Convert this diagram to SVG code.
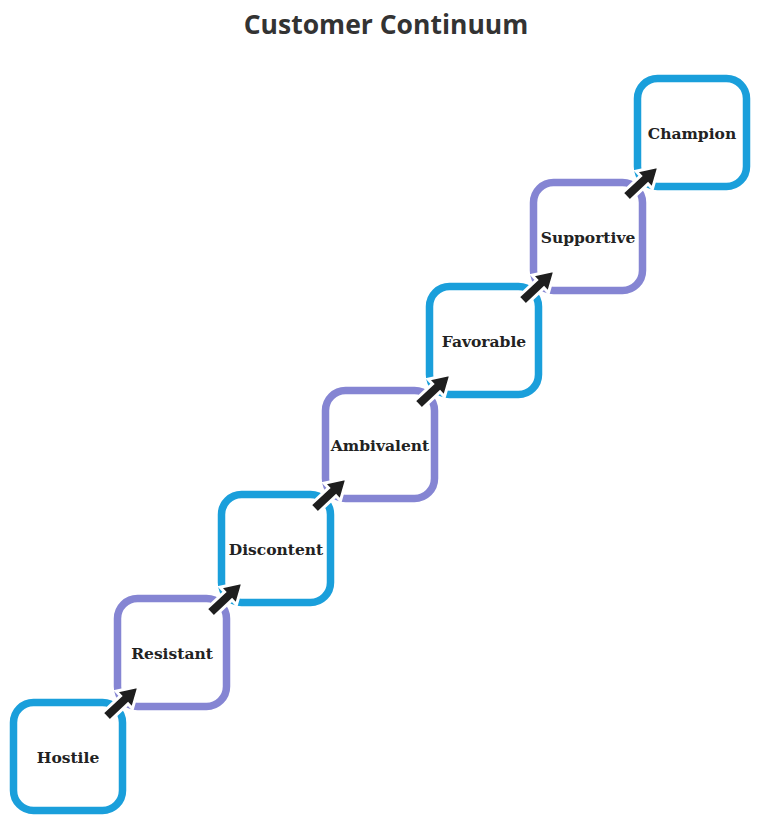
<svg xmlns="http://www.w3.org/2000/svg" width="762" height="824" viewBox="0 0 762 824">
<style>
.title{font-family:"Open Sans",sans-serif;font-weight:700;font-size:26.5px;fill:#333333;text-anchor:middle}
.box{fill:#ffffff;stroke-width:7.5}
.blue{stroke:#1a9fdb}
.purple{stroke:#8585d3}
.lbl{font-family:"DejaVu Serif",serif;font-weight:700;font-size:15.5px;fill:#222222;text-anchor:middle;dominant-baseline:central}
.arr{fill:#1e1e1e;stroke:#ffffff;stroke-width:3;stroke-linejoin:miter}
</style>
<defs>
<polygon id="arrow" points="0,-5.5 25,-5.5 25,-12 45,0 25,12 25,5.5 0,5.5"/>
</defs>
<rect width="762" height="824" fill="#ffffff"/>
<text class="title" x="386" y="34">Customer Continuum</text>
<g id="hostile"><rect class="box blue" x="13.5" y="702.5" width="109" height="108" rx="20"/><text class="lbl" x="68" y="757">Hostile</text></g>
<g id="resistant"><rect class="box purple" x="117.5" y="598.5" width="109" height="108" rx="20"/><text class="lbl" x="172" y="653">Resistant</text></g>
<g id="discontent"><rect class="box blue" x="221.5" y="494.5" width="109" height="108" rx="20"/><text class="lbl" x="276" y="549">Discontent</text></g>
<g id="ambivalent"><rect class="box purple" x="325.5" y="390.5" width="109" height="108" rx="20"/><text class="lbl" x="380" y="445">Ambivalent</text></g>
<g id="favorable"><rect class="box blue" x="429.5" y="286.5" width="109" height="108" rx="20"/><text class="lbl" x="484" y="341">Favorable</text></g>
<g id="supportive"><rect class="box purple" x="533.5" y="182.5" width="109" height="108" rx="20"/><text class="lbl" x="588" y="237">Supportive</text></g>
<g id="champion"><rect class="box blue" x="637.5" y="78.5" width="109" height="108" rx="20"/><text class="lbl" x="692" y="133">Champion</text></g>
<g id="connectors">
<use href="#arrow" class="arr" transform="translate(106,717) rotate(-43)"/>
<use href="#arrow" class="arr" transform="translate(210,613) rotate(-43)"/>
<use href="#arrow" class="arr" transform="translate(314,509) rotate(-43)"/>
<use href="#arrow" class="arr" transform="translate(418,405) rotate(-43)"/>
<use href="#arrow" class="arr" transform="translate(522,301) rotate(-43)"/>
<use href="#arrow" class="arr" transform="translate(626,197) rotate(-43)"/>
</g>
</svg>
